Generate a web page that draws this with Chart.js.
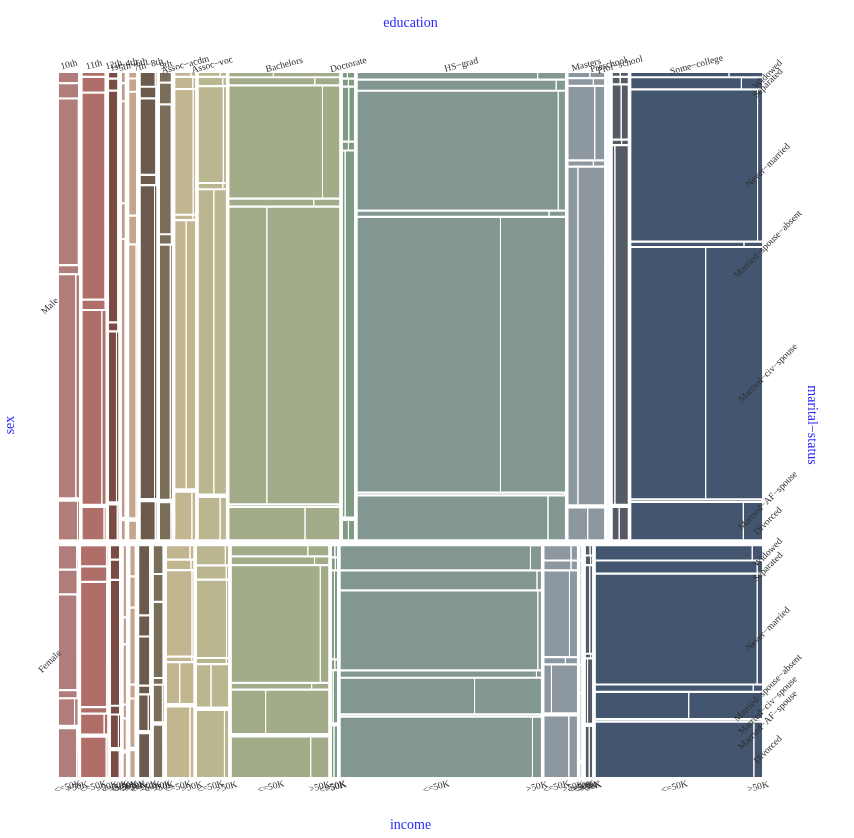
<!DOCTYPE html>
<html>
<head>
<meta charset="utf-8">
<script src="https://cdn.jsdelivr.net/npm/chart.js@4.4.1/dist/chart.umd.min.js"></script>
<style>
html,body{margin:0;padding:0;background:#ffffff;}
#wrap{width:854px;height:838px;position:relative;}
</style>
</head>
<body>
<div id="wrap"><canvas id="c" width="854" height="838"></canvas></div>
<script>
// ---------------- data ----------------
const sexes = ["Male", "Female"];
const educationLevels = ["10th","11th","12th","1st−4th","5th−6th","7th−8th","9th","Assoc−acdm","Assoc−voc","Bachelors","Doctorate","HS−grad","Masters","Preschool","Prof−school","Some−college"];
const maritalStatuses = ["Widowed","Separated","Never−married","Married−spouse−absent","Married−civ−spouse","Married−AF−spouse","Divorced"];
const incomeLevels = ["<=50K", ">50K"];

// people per education level, by sex (estimated from column widths)
const maleEduCount   = [668, 778, 314, 134, 267, 534, 401, 668, 912, 3674, 381, 6924, 1202, 50, 511, 4365];
const femaleEduCount = [309, 435, 155,  56,  91, 184, 165, 438, 518, 1598,  88, 3308,  539, 33, 109, 2746];

// marital-status shares (%) inside each education column; order = maritalStatuses
const maleMaritalPct = [
  [2.0, 2.9, 36.3, 1.5, 49.0, 0, 8.3],
  [0.6, 3.0, 45.2, 1.8, 42.5, 0, 6.9],
  [1.0, 2.2, 51.0, 1.5, 37.5, 0, 7.5],
  [2.0, 3.5, 22.0, 7.4, 61.0, 0, 4.0],
  [1.0, 2.5, 27.5, 6.0, 61.5, 0, 4.0],
  [2.8, 2.1, 16.4, 1.8, 68.9, 0, 8.2],
  [1.9, 4.3, 28.2, 1.8, 55.9, 0, 8.0],
  [0.6, 2.2, 27.3, 0.7, 59.0, 0, 10.3],
  [0.6, 1.6, 21.0, 0.9, 67.3, 0, 9.2],
  [0.7, 1.3, 24.5, 1.3, 65.2, 0.1, 6.9],
  [1.0, 1.3, 11.7, 1.5, 81.0, 0, 4.1],
  [1.2, 2.0, 26.0, 0.9, 60.5, 0.1, 9.5],
  [0.9, 1.2, 16.0, 0.9, 74.4, 0, 6.8],
  [0.0, 2.0, 30.0, 8.0, 55.0, 0, 5.0],
  [0.6, 1.2, 11.7, 0.7, 78.9, 0, 6.9],
  [0.7, 2.2, 33.1, 0.7, 55.2, 0.1, 8.0]
];
const femaleMaritalPct = [
  [10.2, 10.4, 43.0, 2.7, 11.7, 0, 22.0],
  [8.7, 6.1, 56.6, 2.0, 8.6, 0, 18.0],
  [5.6, 8.3, 56.8, 3.0, 14.4, 0, 11.8],
  [32.0, 11.4, 26.6, 5.3, 13.7, 0, 10.6],
  [13.3, 13.4, 34.4, 5.4, 21.7, 0, 11.9],
  [31.2, 8.7, 21.6, 3.0, 15.8, 0, 19.6],
  [12.2, 11.8, 34.0, 2.1, 16.3, 0, 23.6],
  [5.6, 3.8, 38.8, 1.5, 18.3, 0, 32.0],
  [8.2, 5.6, 35.0, 1.8, 19.0, 0, 30.4],
  [4.1, 3.0, 53.1, 2.1, 19.4, 0, 18.2],
  [4.6, 4.9, 39.9, 4.0, 23.4, 0, 23.2],
  [10.6, 8.2, 35.8, 2.4, 15.8, 0.1, 27.3],
  [6.0, 3.5, 39.0, 2.3, 21.5, 0, 27.8],
  [6.0, 6.0, 40.0, 12.0, 30.0, 0, 6.0],
  [3.7, 3.4, 39.8, 1.1, 29.1, 0, 23.0],
  [6.0, 5.0, 50.0, 2.4, 11.5, 0.1, 25.0]
];

// share (%) earning >50K inside each marital cell
const maleHighIncomePct = [
  [0, 0, 1, 0, 14, 0, 5],
  [0, 0, 1, 0, 15, 0, 5],
  [0, 0, 2, 0, 18, 0, 8],
  [0, 0, 0, 0, 6, 0, 0],
  [0, 0, 0, 0, 8, 0, 3],
  [5, 0, 1, 0, 10, 0, 5],
  [0, 0, 1, 0, 10, 0, 4],
  [20, 10, 8, 10, 45, 0, 15],
  [20, 10, 8, 10, 44, 0, 20],
  [60, 22, 15, 23, 66, 0, 31],
  [60, 50, 47, 50, 82, 0, 50],
  [13, 4, 3, 7.5, 31, 0, 8],
  [40, 30, 26, 30, 74, 0, 46],
  [0, 0, 0, 0, 0, 0, 0],
  [50, 50, 43, 40, 87, 0, 57],
  [25, 15.5, 3, 13.5, 43, 0, 14]
];
const femaleHighIncomePct = [
  [3, 0, 1, 0, 15, 0, 3],
  [2, 0, 1, 0, 11, 0, 3],
  [0, 0, 2, 0, 15, 0, 5],
  [0, 0, 0, 0, 5, 0, 0],
  [0, 0, 0, 0, 5, 0, 0],
  [2, 0, 0, 0, 15, 0, 3],
  [0, 0, 0, 0, 8, 0, 3],
  [12, 8, 4, 5, 52, 0, 12],
  [8, 5, 4, 5, 55, 0, 11],
  [21, 14, 8, 17, 65, 0, 18],
  [40, 30, 50, 40, 80, 0, 60],
  [5, 1.7, 1.3, 2, 33, 0, 4],
  [17, 17, 22, 35, 79, 0, 24],
  [0, 0, 0, 0, 0, 0, 0],
  [30, 20, 35, 20, 75, 0, 45],
  [5.6, 2.6, 2.6, 5, 44, 0, 4.6]
];

// ---------------- styling ----------------
const eduColors = ["#B07D7B","#B06E69","#7A4B43","#BF9A8C","#C4A58F","#6C5B4C","#7A6D59","#C1B690",
                   "#BAB68F","#A3AC88","#809B83","#829792","#8C97A0","#A9AFB5","#545B64","#44566F"];
const FONT = '"Liberation Serif", "DejaVu Serif", serif';
const AREA_W = 703, AREA_H = 704;
const GAP_SEX = 7, GAP_EDU = 3.35, GAP_MAR = 2.2, GAP_INC = 1;

// ---------------- mosaic layout in axis units ----------------
const sexTables = [
  {edu: maleEduCount, mar: maleMaritalPct, rich: maleHighIncomePct},
  {edu: femaleEduCount, mar: femaleMaritalPct, rich: femaleHighIncomePct}
];
const sum = a => a.reduce((p, q) => p + q, 0);
const sexTotals = sexTables.map(t => sum(t.edu));
const grand = sum(sexTotals);

const rects = [];
const sexBands = [];
const eduCenters = [];      // male row column centres
const maritalCenters = [];  // per sex, last column cell centres
const incomeCenters = [];   // female row, bottom (Divorced) cell
let yPos = 0;
sexTables.forEach((t, si) => {
  const h = (AREA_H - GAP_SEX) * sexTotals[si] / grand;
  sexBands.push({y0: yPos, y1: yPos + h});
  const wAvail = AREA_W - GAP_EDU * (educationLevels.length - 1);
  let xPos = 0;
  t.edu.forEach((cnt, ei) => {
    const w = wAvail * cnt / sexTotals[si];
    if (si === 0) eduCenters.push(xPos + w / 2);
    const pcts = t.mar[ei];
    const ps = sum(pcts);
    const hAvail = h - GAP_MAR * (pcts.length - 1);
    let yy = yPos;
    pcts.forEach((p, mi) => {
      const ch = hAvail * p / ps;
      const r = t.rich[ei][mi] / 100;
      const wLow = (w - GAP_INC) * (1 - r);
      const wHigh = (w - GAP_INC) * r;
      if (ch > 0) {
        rects.push({x0: xPos, x1: xPos + wLow, y0: yy, y1: yy + ch, c: eduColors[ei],
                    name: sexes[si] + " / " + educationLevels[ei] + " / " + maritalStatuses[mi] + " / " + incomeLevels[0]});
        if (wHigh > 0.05) rects.push({x0: xPos + wLow + GAP_INC, x1: xPos + w, y0: yy, y1: yy + ch, c: eduColors[ei],
                    name: sexes[si] + " / " + educationLevels[ei] + " / " + maritalStatuses[mi] + " / " + incomeLevels[1]});
      }
      if (ei === t.edu.length - 1) maritalCenters.push({label: maritalStatuses[mi], y: yy + ch / 2});
      if (si === 1 && mi === pcts.length - 1) {
        incomeCenters.push({label: incomeLevels[0], x: xPos + wLow / 2});
        incomeCenters.push({label: incomeLevels[1], x: xPos + wLow + GAP_INC + wHigh / 2});
      }
      yy += ch + GAP_MAR;
    });
    xPos += w + GAP_EDU;
  });
  yPos += h + GAP_SEX;
});

const datasets = rects.map(r => ({
  label: r.name,
  data: [{x: r.x0, y: r.y0}, {x: r.x1, y: r.y0}],
  fill: {value: r.y1},
  backgroundColor: r.c,
  borderColor: 'rgba(0,0,0,0)',
  borderWidth: 0,
  pointRadius: 0,
  pointHoverRadius: 0,
  tension: 0
}));

// ---------------- labels plugin ----------------
const labelPlugin = {
  id: 'mosaicLabels',
  afterDatasetsDraw(chart) {
    const ctx = chart.ctx, xs = chart.scales.x, ys = chart.scales.y, ca = chart.chartArea;
    const rotText = (txt, x, y, ang, font, color) => {
      ctx.save();
      ctx.translate(x, y);
      ctx.rotate(ang);
      ctx.font = font;
      ctx.fillStyle = color;
      ctx.textAlign = 'center';
      ctx.textBaseline = 'middle';
      ctx.fillText(txt, 0, 0);
      ctx.restore();
    };
    const blue = 'rgb(40,40,255)';
    const dark = '#2e2e2e';
    const tickFont = '9.5px ' + FONT;
    const midX = (ca.left + ca.right) / 2, midY = (ca.top + ca.bottom) / 2;
    rotText('education', midX, ca.top - 50, 0, '14px ' + FONT, blue);
    rotText('income', midX, ca.bottom + 48, 0, '14px ' + FONT, blue);
    rotText('sex', ca.left - 49, midY, -Math.PI / 2, '14px ' + FONT, blue);
    rotText('marital−status', ca.right + 50, midY, Math.PI / 2, '14px ' + FONT, blue);
    const deg = Math.PI / 180;
    educationLevels.forEach((e, i) => rotText(e, xs.getPixelForValue(eduCenters[i]), ca.top - 8, -15 * deg, tickFont, dark));
    sexes.forEach((s, i) => rotText(s, ca.left - 9, ys.getPixelForValue((sexBands[i].y0 + sexBands[i].y1) / 2), -45 * deg, tickFont, dark));
    maritalCenters.forEach(m => rotText(m.label, ca.right + 6, ys.getPixelForValue(m.y), -45 * deg, tickFont, dark));
    incomeCenters.forEach(m => rotText(m.label, xs.getPixelForValue(m.x), ca.bottom + 10, -15 * deg, tickFont, dark));
  }
};

new Chart(document.getElementById('c'), {
  type: 'line',
  data: {datasets},
  options: {
    responsive: false,
    devicePixelRatio: 1,
    animation: false,
    events: [],
    layout: {padding: {left: 59, right: 92, top: 73, bottom: 61}},
    plugins: {legend: {display: false}, tooltip: {enabled: false}, title: {display: false}},
    scales: {
      x: {type: 'linear', min: 0, max: AREA_W, display: false},
      y: {type: 'linear', min: 0, max: AREA_H, reverse: true, display: false}
    },
    elements: {line: {borderWidth: 0}}
  },
  plugins: [labelPlugin]
});
</script>
</body>
</html>
